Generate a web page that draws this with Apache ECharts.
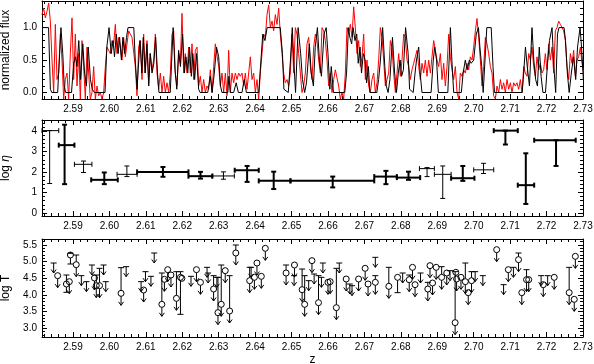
<!DOCTYPE html>
<html>
<head>
<meta charset="utf-8">
<script src="https://cdn.jsdelivr.net/npm/echarts@6/dist/echarts.min.js"></script>
<style>
html, body { margin: 0; padding: 0; background: #fff; }
#chart { width: 594px; height: 364px; }
</style>
</head>
<body>
<div id="chart"></div>
<script>
// ---- data ----
const zMin = 2.5815, zMax = 2.73;
const zTicks = [2.59, 2.60, 2.61, 2.62, 2.63, 2.64, 2.65, 2.66, 2.67, 2.68, 2.69, 2.70, 2.71, 2.72, 2.73];
const fluxTicks = [0, 0.5, 1.0];
const etaTicks = [0, 1, 2, 3, 4];
const tempTicks = [3.0, 3.5, 4.0, 4.5, 5.0, 5.5];

// observed spectrum, sampled on a regular redshift grid
const obsZ0 = 2.5815, obsDz = 0.0004575;
const obsFlux = [
  1.2, 1.3, 1.15, 1.25, 1.38, 1.1, 0.5, 0.0, 1.05, 0.2,
  0.3, 0.9, 0.5, -0.1, 0.2, 0.3, -0.1, 0.6, 1.15, 0.2,
  0.9, 0.1, 0.6, -0.1, 0.8, 0.4, -0.1, 0.7, 0.3, -0.1,
  0.0, 0.4, -0.1, 0.1, -0.05, 0.0, -0.1, 0.0, 0.4, 0.7,
  0.65, 0.6, 0.8, 0.75, 1.05, 0.6, 0.85, 0.7, 0.5, 0.85,
  0.55, 0.75, 0.95, 0.9, 0.85, 0.85, 0.4, -0.05, 0.7, 0.8,
  0.2, 0.9, 0.3, 0.8, 0.15, 0.6, 0.35, 0.5, 0.9, 0.3,
  0.05, 0.3, 0.0, 0.25, 0.0, 0.15, 0.0, 0.3, 0.9, 0.95,
  0.3, 0.1, 0.6, 0.45, 1.22, 0.3, 0.6, 0.3, 0.7, 0.3,
  0.75, 0.2, 0.65, 0.7, 0.1, 0.25, 0.0, 0.2, 0.0, 0.1,
  0.05, 0.35, 0.0, 0.4, 0.75, 0.75, 0.4, 0.1, 0.3, 0.0,
  0.3, -0.05, 0.65, 0.0, 0.3, 0.15, 0.3, 0.2, 0.3, 0.25,
  0.3, 0.1, 0.3, 0.05, 0.3, 0.55, 0.2, 0.3, 0.0, 0.2,
  -0.1, 0.3, 0.6, 0.9, 0.85, 1.2, 1.35, 1.0, 1.1, 0.95,
  1.2, 1.05, 1.3, 0.9, 0.6, 0.3, 0.15, 0.2, 0.1, 0.3,
  0.9, 0.3,
  1.0, 0.9, 0.6, 0.3, 0.0, 0.1, 0.3, 0.75, 0.85, 0.4,
  0.2, 0.7, 0.9, 0.8, 0.5, 0.3, 1.0, 0.95, 0.8, 0.5,
  0.1, 0.3, 0.0, 0.2, 0.35, 0.35, 0.1, -0.1, 0.0, -0.1,
  0.3, 1.0, 0.9, 1.05, 0.85, 1.32, 1.0, 0.6, 0.8, 0.4,
  0.55, 0.9, 0.2, 0.5, 0.1, 0.0, 0.2, 0.3, 0.0, 0.15,
  0.5, 1.0, 0.85, 0.5, 0.1, 0.2, 0.3, 0.8, 0.7, 0.3,
  0.0, 0.3, 0.6, 0.25, 0.5, 0.9, 0.85, 0.5, 0.4, 0.2,
  0.35, 0.45, 0.55, 0.65, 0.4, 0.2, 0.45, 0.3, 0.5, 0.25,
  0.5, 0.3, 0.55, 0.8, 0.65, 0.5, 0.4, 0.6, 0.2, 0.45,
  0.1, 0.4, 0.9, 0.55, 0.35, 0.2, 0.4, 0.0, -0.1, 0.3,
  0.25, 0.35, 0.3, 0.45, 0.35, 0.55, 0.5, 0.7, 0.95, 1.14,
  0.85, 0.5, 0.1, 0.4, 0.85, 0.75, 0.6, 0.4, 0.3, -0.05,
  -0.1, 0.1, 0.0, 0.2, 0.05, 0.15, 0.0, 0.2, 0.05, 0.15,
  0.0, 0.15, 0.1, 0.15, 0.05, 0.2, 0.0, 0.4, 0.3, 0.25,
  0.6, 0.5, 0.7, 0.4, 0.25, 0.55, 0.35, 0.45, 0.3, 0.35,
  0.6, 0.35, 0.75, 0.5, 0.7, 0.3, 0.95, 1.0, 1.1, 1.05,
  1.05, 0.95, 0.8, 0.4, 0.2, 0.6, 0.45, 0.65, 0.25, 0.5,
  0.55, 0.7, 0.45, 0.3, 0.1
];

// model spectrum [z, flux]
const modelPoints = [
  [2.5815, 1.0], [2.5833, 1.0], [2.5838, 0.05], [2.5842, 0.0], [2.5858, 0.0], [2.5867, 1.0], [2.5872, 0.6], [2.5876, 0.1],
  [2.5880, 0.0], [2.5896, 0.0], [2.5902, 0.45], [2.5907, 0.55], [2.5911, 0.4], [2.5916, 0.8], [2.5921, 0.2], [2.5927, 0.75],
  [2.5932, 0.3], [2.5937, 0.1], [2.5942, 0.7], [2.5948, 0.2], [2.5953, 0.05], [2.5959, 0.0], [2.5988, 0.0], [2.5993, 0.7],
  [2.5999, 1.0], [2.6005, 0.6], [2.6010, 0.8], [2.6014, 0.55], [2.6019, 0.9], [2.6024, 0.6], [2.6028, 0.85], [2.6033, 0.5],
  [2.6037, 0.85], [2.6042, 0.6], [2.6047, 0.85], [2.6051, 1.0], [2.6067, 1.0], [2.6071, 0.5], [2.6076, 0.05], [2.6079, 0.35],
  [2.6084, 0.8], [2.6089, 0.3], [2.6093, 0.85], [2.6098, 0.3], [2.6103, 0.75], [2.6108, 0.1], [2.6112, 0.6], [2.6117, 0.3],
  [2.6122, 0.45], [2.6127, 0.85], [2.6132, 0.3], [2.6136, 0.0], [2.6167, 0.0], [2.6175, 1.0], [2.6180, 0.35], [2.6185, 0.05],
  [2.6190, 0.65], [2.6195, 0.4], [2.6201, 0.9], [2.6206, 0.3], [2.6210, 0.55], [2.6215, 0.3], [2.6220, 0.7], [2.6225, 0.25],
  [2.6229, 0.6], [2.6234, 0.2], [2.6239, 0.6], [2.6245, 0.05], [2.6249, 0.0], [2.6270, 0.0], [2.6277, 0.25], [2.6282, 0.0],
  [2.6288, 0.3], [2.6294, 0.7], [2.6300, 0.55], [2.6305, 0.1], [2.6309, 0.0], [2.6325, 0.0], [2.6328, 0.25], [2.6332, 0.0],
  [2.6341, 0.0], [2.6348, 0.15], [2.6354, 0.0], [2.6364, 0.0], [2.6370, 0.2], [2.6376, 0.0], [2.6410, 0.0], [2.6416, 0.5],
  [2.6421, 0.9], [2.6427, 0.8], [2.6433, 1.0], [2.6469, 1.0], [2.6475, 0.6], [2.6479, 0.05], [2.6491, 0.0], [2.6497, 0.5],
  [2.6502, 1.0], [2.6507, 0.4], [2.6511, 0.0], [2.6518, 1.0], [2.6525, 0.6], [2.6530, 0.2], [2.6536, 0.0], [2.6541, 0.15],
  [2.6549, 0.75], [2.6554, 0.3], [2.6560, 0.1], [2.6565, 0.7], [2.6571, 1.0], [2.6577, 0.45], [2.6582, 0.25], [2.6589, 0.9],
  [2.6595, 1.0], [2.6600, 0.6], [2.6605, 0.05], [2.6609, 0.4], [2.6615, 0.0], [2.6646, 0.0], [2.6651, 0.3], [2.6656, 1.0],
  [2.6660, 0.85], [2.6665, 0.75], [2.6669, 1.0], [2.6674, 0.8], [2.6679, 0.9], [2.6683, 0.45], [2.6688, 0.7], [2.6692, 0.3],
  [2.6697, 0.6], [2.6702, 0.5], [2.6706, 0.15], [2.6711, 0.4], [2.6715, 0.0], [2.6734, 0.0], [2.6739, 0.2], [2.6744, 0.5],
  [2.6750, 1.0], [2.6756, 0.4], [2.6760, 0.1], [2.6765, 0.0], [2.6770, 0.2], [2.6777, 0.85], [2.6783, 0.3], [2.6788, 0.0],
  [2.6793, 0.3], [2.6798, 0.5], [2.6802, 0.25], [2.6807, 0.35], [2.6813, 1.0], [2.6820, 0.6], [2.6824, 0.05], [2.6829, 0.05],
  [2.6834, 0.0], [2.6839, 0.3], [2.6843, 0.5], [2.6849, 0.7], [2.6853, 0.3], [2.6858, 0.0], [2.6883, 0.0], [2.6889, 0.5],
  [2.6893, 0.7], [2.6898, 0.5], [2.6903, 0.0], [2.6929, 0.0], [2.6936, 1.0], [2.6940, 0.5], [2.6945, 0.0], [2.6966, 0.0],
  [2.6971, 0.3], [2.6977, 0.5], [2.6982, 0.35], [2.6988, 0.5], [2.6993, 0.45], [2.7000, 0.5], [2.7007, 0.9], [2.7013, 1.0],
  [2.7017, 0.7], [2.7022, 0.4], [2.7026, 0.0], [2.7031, 0.5], [2.7036, 1.0], [2.7048, 1.0], [2.7053, 0.4], [2.7057, 0.0],
  [2.7133, 0.0], [2.7136, 0.2], [2.7142, 0.7], [2.7147, 0.4], [2.7153, 0.1], [2.7160, 1.0], [2.7165, 0.5], [2.7170, 0.2],
  [2.7175, 0.1], [2.7180, 0.7], [2.7185, 0.25], [2.7190, 0.0], [2.7197, 0.0], [2.7202, 0.4], [2.7208, 0.8], [2.7215, 1.0],
  [2.7220, 0.4], [2.7225, 0.0], [2.7230, 0.9], [2.7234, 1.0], [2.7248, 1.0], [2.7252, 0.8], [2.7257, 0.3], [2.7262, 0.0],
  [2.7268, 0.3], [2.7274, 0.55], [2.7280, 0.2], [2.7285, 0.7], [2.7292, 1.0], [2.7296, 0.7], [2.7301, 0.2]
];

// log eta bins: [z centre, z low, z high, value, low, high]
const etaBins = [
  [2.5836, 2.5815, 2.5861, 4.03, 1.44, 4.03],
  [2.5877, 2.5861, 2.5904, 3.32, 1.41, 4.32],
  [2.5929, 2.5904, 2.5952, 2.38, 1.98, 2.54],
  [2.5986, 2.5950, 2.6023, 1.62, 1.41, 1.98],
  [2.6048, 2.6021, 2.6076, 1.89, 1.78, 2.30],
  [2.6147, 2.6076, 2.6217, 2.01, 1.77, 2.25],
  [2.6250, 2.6217, 2.6282, 1.80, 1.68, 2.01],
  [2.6313, 2.6284, 2.6343, 1.81, 1.65, 2.01],
  [2.6378, 2.6344, 2.6410, 2.09, 1.52, 2.30],
  [2.6451, 2.6410, 2.6497, 1.57, 1.17, 2.02],
  [2.6613, 2.6497, 2.6727, 1.57, 1.25, 1.78],
  [2.6759, 2.6727, 2.6789, 1.78, 1.41, 2.06],
  [2.6821, 2.6789, 2.6853, 1.73, 1.62, 2.02],
  [2.6872, 2.6851, 2.6892, 2.17, 1.78, 2.22],
  [2.6915, 2.6892, 2.6938, 1.89, 0.71, 2.30],
  [2.6970, 2.6938, 2.7002, 1.70, 1.57, 2.30],
  [2.7027, 2.7000, 2.7055, 2.11, 1.93, 2.43],
  [2.7087, 2.7055, 2.7121, 4.03, 3.35, 4.03],
  [2.7143, 2.7121, 2.7166, 1.36, 0.44, 2.92],
  [2.7226, 2.7166, 2.7280, 3.56, 2.30, 3.56]
];
const thickBins = [1, 3, 5, 6, 8, 9, 10, 11, 12, 15, 17, 18, 19];

// log T measurements: [z, value, upper bar, lower bar, upper limit?]
const tempPoints = [
  [2.5858, 4.58, null, null, 1], [2.5882, 4.33, 4.60, 4.08, 0], [2.5890, 4.40, null, null, 1],
  [2.5893, 5.20, 5.25, 4.93, 0], [2.5909, 4.91, 5.20, null, 1], [2.5959, 4.51, null, null, 1],
  [2.5964, 4.28, 4.60, null, 1], [2.5973, 4.28, 4.80, null, 1], [2.6032, 4.05, 4.82, null, 1],
  [2.6094, 4.15, null, null, 1], [2.6144, 3.72, 4.66, null, 1], [2.6151, 4.47, null, null, 1],
  [2.6160, 4.76, null, null, 1], [2.6169, 4.60, null, null, 1], [2.6184, 3.90, 4.70, null, 1],
  [2.6195, 4.53, 4.70, 3.42, 0], [2.6199, 4.50, null, null, 0], [2.6239, 4.76, null, null, 1],
  [2.6250, 4.38, null, null, 1], [2.6286, 4.18, 4.58, null, 1], [2.6298, 3.47, 4.53, null, 1],
  [2.6307, 3.72, 4.90, null, 1], [2.6318, 4.73, null, null, 1], [2.6330, 3.52, 4.58, null, 1],
  [2.6347, 5.26, 5.50, null, 1], [2.6385, 4.43, 4.83, null, 1], [2.6398, 4.53, null, null, 1],
  [2.6405, 4.96, null, null, 1], [2.6417, 4.56, null, null, 1], [2.6428, 5.40, null, null, 1],
  [2.6485, 4.66, 4.90, null, 1], [2.6508, 4.90, null, null, 1], [2.6529, 4.16, 4.78, null, 1],
  [2.6536, 3.72, 4.58, null, 1], [2.6556, 5.03, null, null, 1], [2.6574, 3.77, 4.58, null, 1],
  [2.6600, 4.38, null, null, 1], [2.6606, 4.40, null, null, 1], [2.6623, 3.62, 4.80, null, 1],
  [2.6650, 4.48, null, null, 1], [2.6684, 4.48, null, null, 1], [2.6702, 4.80, null, null, 1],
  [2.6710, 4.33, null, null, 1], [2.6730, 4.38, 4.58, null, 1], [2.6767, 4.26, 4.83, null, 1],
  [2.6791, 4.53, null, 4.07, 0], [2.6823, 4.46, 4.60, null, 1], [2.6832, 4.83, null, null, 1],
  [2.6839, 4.31, null, null, 1], [2.6874, 4.18, 4.38, null, 1], [2.6880, 4.88, null, null, 1],
  [2.6887, 4.36, null, null, 1], [2.6897, 4.83, null, null, 1], [2.6912, 4.53, 4.85, null, 1],
  [2.6926, 4.66, null, null, 1], [2.6949, 3.17, 4.70, null, 1], [2.6951, 4.68, null, null, 0],
  [2.6953, 4.48, null, null, 1], [2.6965, 4.53, null, null, 1], [2.6977, 4.40, 4.96, null, 1],
  [2.6985, 4.07, null, null, 1], [2.6994, 4.43, 4.70, null, 1], [2.7063, 5.36, null, null, 1],
  [2.7095, 4.76, null, null, 1], [2.7123, 5.06, 5.26, null, 1], [2.7132, 4.07, null, null, 1],
  [2.7145, 4.46, 4.76, null, 1], [2.7151, 4.46, null, null, 1], [2.7191, 4.31, null, null, 1],
  [2.7221, 4.53, null, null, 1], [2.7262, 4.07, 4.83, null, 1], [2.7276, 3.87, null, null, 1],
  [2.7279, 5.16, null, null, 1]
];

// log T upper limits without a measured point: [z, limit]
const tempLimits = [
  [2.5847, 4.96], [2.5923, 4.58], [2.5937, 4.40], [2.5952, 4.90], [2.5984, 4.90], [2.5990, 4.40],
  [2.6046, 4.85], [2.6087, 4.40], [2.6099, 4.70], [2.6114, 4.56], [2.6123, 5.26], [2.6224, 4.56],
  [2.6268, 4.83], [2.6271, 4.66], [2.6295, 4.53], [2.6389, 4.83], [2.6507, 4.58], [2.6547, 4.43],
  [2.6562, 4.63], [2.6582, 4.53], [2.6586, 4.96], [2.6631, 4.96], [2.6660, 4.33], [2.6666, 4.28],
  [2.6730, 5.13], [2.6805, 4.66], [2.6854, 4.66], [2.6935, 4.73], [2.7004, 4.70], [2.7025, 4.58],
  [2.7082, 4.31], [2.7109, 4.83], [2.7185, 4.58], [2.7203, 4.58]
];

// ---- chart ----
const font = 'Liberation Sans, Helvetica, Arial, sans-serif';
const ink = '#000';
const line = { color: ink, width: 1 };
const labelStyle = { color: ink, fontSize: 10, fontFamily: font };
const nameStyle = { color: ink, fontSize: 12, fontFamily: font, rich: { i: { fontStyle: 'italic', fontSize: 12, fontFamily: font, color: ink } } };

function steps(a, b, d) {
  const out = [];
  for (let v = a; v <= b + d / 2; v += d) out.push(Math.round(v * 10000) / 10000);
  return out;
}
const zMinor = steps(2.582, 2.73, 0.002);

function xAxes(g, name) {
  const base = { gridIndex: g, type: 'value', min: zMin, max: zMax, splitLine: { show: false } };
  return [
    Object.assign({}, base, {
      position: 'bottom',
      axisLine: { show: true, onZero: false, lineStyle: line },
      axisTick: { inside: true, length: 5, customValues: zTicks, lineStyle: line },
      axisLabel: Object.assign({ customValues: zTicks, formatter: v => v.toFixed(2), margin: 5 }, labelStyle),
      name: name || '', nameLocation: 'middle', nameGap: 17, nameTextStyle: nameStyle
    }),
    Object.assign({}, base, {
      position: 'bottom', axisLine: { show: false, onZero: false },
      axisTick: { inside: true, length: 3, customValues: zMinor, lineStyle: line }, axisLabel: { show: false }
    }),
    Object.assign({}, base, {
      position: 'top', axisLine: { show: true, onZero: false, lineStyle: line },
      axisTick: { inside: true, length: 5, customValues: zTicks, lineStyle: line }, axisLabel: { show: false }
    }),
    Object.assign({}, base, {
      position: 'top', axisLine: { show: false, onZero: false },
      axisTick: { inside: true, length: 3, customValues: zMinor, lineStyle: line }, axisLabel: { show: false }
    })
  ];
}

function yAxes(g, min, max, ticks, minor, digits, name) {
  const base = { gridIndex: g, type: 'value', min: min, max: max, splitLine: { show: false } };
  return [
    Object.assign({}, base, {
      position: 'left',
      axisLine: { show: true, onZero: false, lineStyle: line },
      axisTick: { inside: true, length: 5, customValues: ticks, lineStyle: line },
      axisLabel: Object.assign({ customValues: ticks, formatter: v => v.toFixed(digits), margin: 5 }, labelStyle),
      name: name, nameLocation: 'middle', nameGap: 30, nameTextStyle: nameStyle
    }),
    Object.assign({}, base, {
      position: 'left', axisLine: { show: false, onZero: false },
      axisTick: { inside: true, length: 3, customValues: minor, lineStyle: line }, axisLabel: { show: false }
    }),
    Object.assign({}, base, {
      position: 'right', axisLine: { show: true, onZero: false, lineStyle: line },
      axisTick: { inside: true, length: 5, customValues: ticks, lineStyle: line }, axisLabel: { show: false }
    }),
    Object.assign({}, base, {
      position: 'right', axisLine: { show: false, onZero: false },
      axisTick: { inside: true, length: 3, customValues: minor, lineStyle: line }, axisLabel: { show: false }
    })
  ];
}

function seg(x1, y1, x2, y2, w) {
  return { type: 'line', shape: { x1: x1, y1: y1, x2: x2, y2: y2 }, style: { stroke: ink, lineWidth: w || 1 } };
}
function arrowDown(x, y0, len) {
  const y1 = y0 + len;
  return [
    seg(x, y0, x, y1),
    { type: 'polyline', shape: { points: [[x - 2.5, y1 - 3.5], [x, y1], [x + 2.5, y1 - 3.5]] }, style: { stroke: ink, fill: null, lineWidth: 1 } }
  ];
}

function renderEta(params, api) {
  const b = etaBins[params.dataIndex];
  const w = thickBins.indexOf(params.dataIndex) >= 0 ? 2 : 1;
  const pl = api.coord([b[1], b[3]]), pr = api.coord([b[2], b[3]]);
  const pt = api.coord([b[0], b[5]]), pb = api.coord([b[0], b[4]]);
  const c = 2.5;
  return {
    type: 'group',
    children: [
      seg(pl[0], pl[1], pr[0], pr[1], w),
      seg(pl[0], pl[1] - c, pl[0], pl[1] + c, w),
      seg(pr[0], pr[1] - c, pr[0], pr[1] + c, w),
      seg(pt[0], pt[1], pb[0], pb[1], w),
      seg(pt[0] - c, pt[1], pt[0] + c, pt[1], w),
      seg(pb[0] - c, pb[1], pb[0] + c, pb[1], w)
    ]
  };
}

function renderTemp(params, api) {
  const t = tempPoints[params.dataIndex];
  const p = api.coord([t[0], t[1]]);
  const r = 3;
  const kids = [{ type: 'circle', shape: { cx: p[0], cy: p[1], r: r }, style: { stroke: ink, fill: 'none', lineWidth: 1 } }];
  if (t[2] != null) {
    const q = api.coord([t[0], t[2]]);
    kids.push(seg(p[0], q[1], p[0], p[1] - r), seg(p[0] - 3, q[1], p[0] + 3, q[1]));
  }
  if (t[3] != null) {
    const q = api.coord([t[0], t[3]]);
    kids.push(seg(p[0], p[1] + r, p[0], q[1]), seg(p[0] - 3, q[1], p[0] + 3, q[1]));
  }
  if (t[4]) kids.push.apply(kids, arrowDown(p[0], p[1] + r, 9));
  return { type: 'group', children: kids };
}

function renderLimit(params, api) {
  const u = tempLimits[params.dataIndex];
  const p = api.coord([u[0], u[1]]);
  return { type: 'group', children: [seg(p[0] - 3, p[1], p[0] + 3, p[1])].concat(arrowDown(p[0], p[1], 10)) };
}

const chart = echarts.init(document.getElementById('chart'), null, { renderer: 'canvas' });
chart.setOption({
  animation: false,
  backgroundColor: '#fff',
  grid: [
    { left: 42, right: 11, top: 1, height: 98, outerBoundsMode: 'none' },
    { left: 42, right: 11, top: 120, height: 96, outerBoundsMode: 'none' },
    { left: 42, right: 11, top: 239, height: 98, outerBoundsMode: 'none' }
  ],
  xAxis: [].concat(xAxes(0), xAxes(1), xAxes(2, 'z')),
  yAxis: [].concat(
    yAxes(0, -0.1, 1.41, fluxTicks, steps(-0.1, 1.4, 0.1), 1, 'normalized flux'),
    yAxes(1, -0.15, 4.55, etaTicks, steps(0, 4.4, 0.2), 0, 'log {i|η}'),
    yAxes(2, 2.74, 5.68, tempTicks, steps(2.8, 5.6, 0.1), 1, 'log T')
  ),
  series: [
    {
      type: 'line', xAxisIndex: 0, yAxisIndex: 0,
      data: obsFlux.map((f, i) => [obsZ0 + i * obsDz, f]),
      showSymbol: false, symbol: 'none', clip: true,
      lineStyle: { color: '#ff0000', width: 1 }
    },
    {
      type: 'line', xAxisIndex: 0, yAxisIndex: 0,
      data: modelPoints,
      showSymbol: false, symbol: 'none', clip: true,
      lineStyle: { color: '#000', width: 1 }
    },
    {
      type: 'custom', xAxisIndex: 4, yAxisIndex: 4,
      data: etaBins, encode: { x: [0, 1, 2], y: [3, 4, 5] },
      renderItem: renderEta
    },
    {
      type: 'custom', xAxisIndex: 8, yAxisIndex: 8,
      data: tempPoints.map(t => [t[0], t[1]]), encode: { x: 0, y: 1 },
      renderItem: renderTemp
    },
    {
      type: 'custom', xAxisIndex: 8, yAxisIndex: 8,
      data: tempLimits, encode: { x: 0, y: 1 },
      renderItem: renderLimit
    }
  ]
});
</script>
</body>
</html>
